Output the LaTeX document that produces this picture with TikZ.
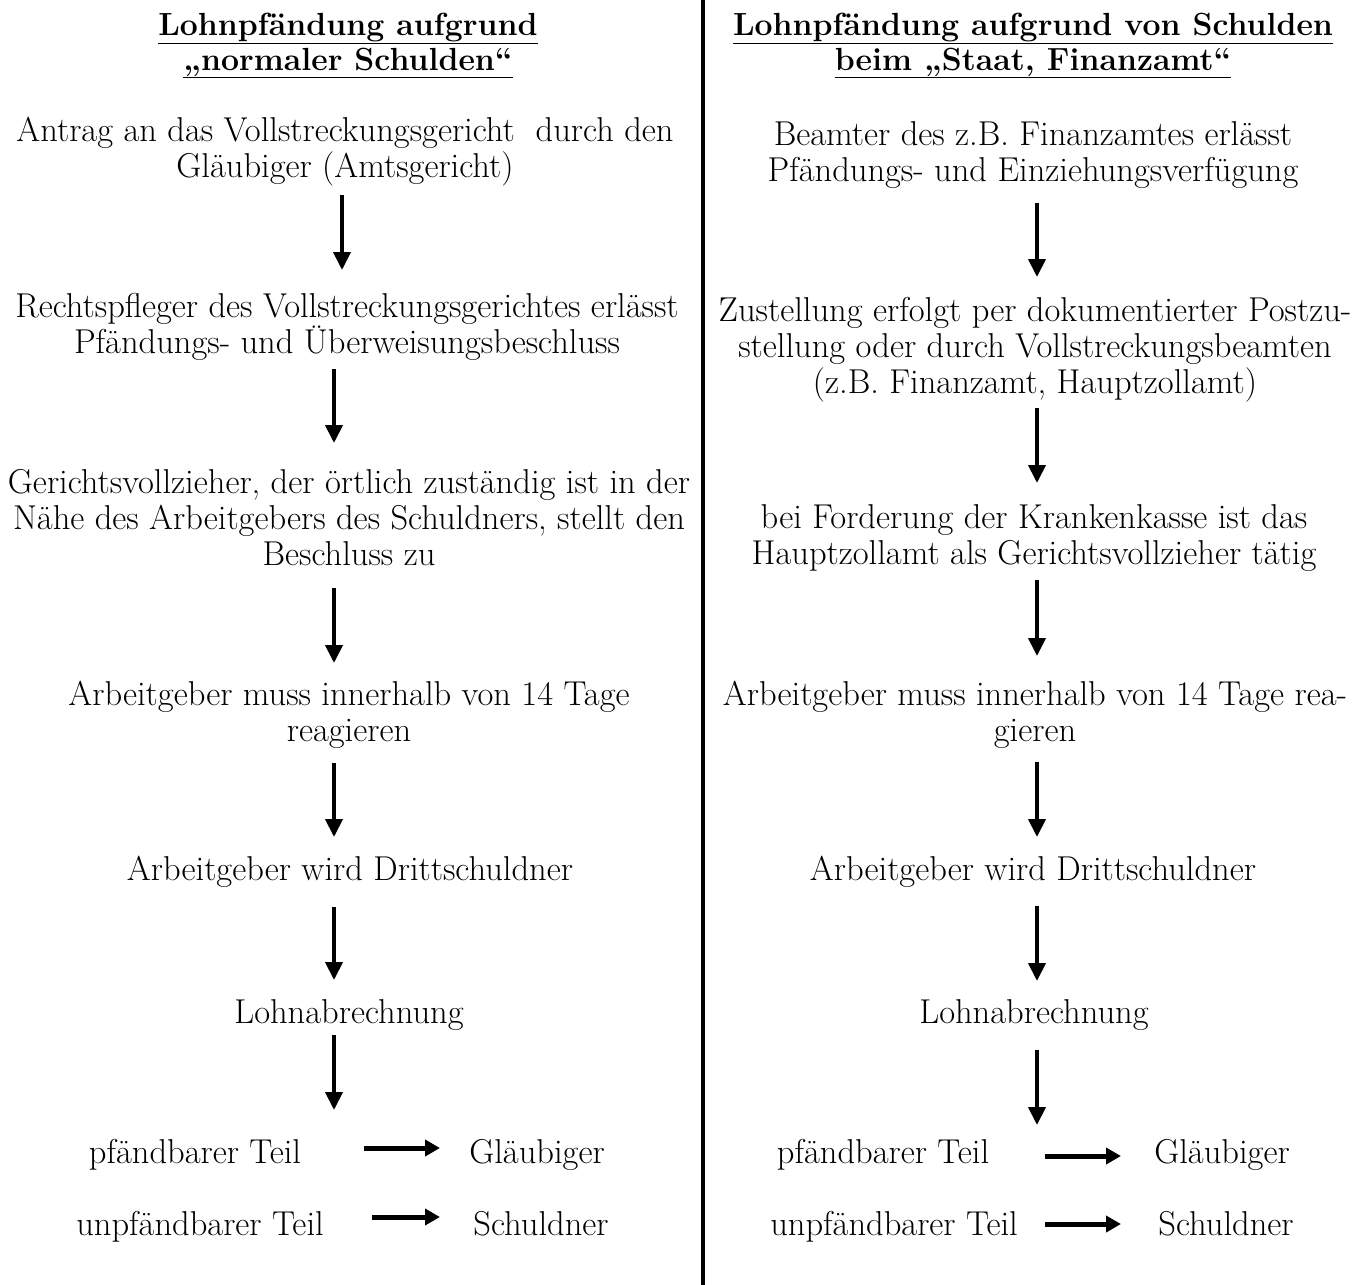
\documentclass[tikz,border=0pt]{standalone}
\usepackage{fontspec}
\usetikzlibrary{arrows.meta}
\tikzset{
  txt/.style={inner sep=0pt, anchor=base, align=center, font=\fontsize{34.5}{36}\selectfont},
  head/.style={inner sep=0pt, anchor=base, align=center, font=\fontsize{32}{35}\selectfont\bfseries},
  flow/.style={line width=4pt, -{Triangle[length=18pt,width=17pt]}},
  side/.style={line width=5pt, -{Triangle[length=15pt,width=16pt]}},
  divider/.style={line width=4pt}
}
\begin{document}
\begin{tikzpicture}[x=1pt,y=-1pt]
\useasboundingbox (0,0) rectangle (1358,1285);
% divider
\coordinate (dtop) at (703,0);
\coordinate (dbot) at (703,1285);
\draw[divider] (dtop) -- (dbot);

% ---------- left column (anchors = baseline of last line) ----------
\node[head] (lh) at (348,70) {\underline{Lohnpfändung aufgrund}\\\underline{„normaler Schulden“}};
\node[txt] (l1) at (345,177) {Antrag an das Vollstreckungsgericht\ \ durch den\\Gläubiger (Amtsgericht)};
\node[txt] (l2) at (347,353) {Rechtspfleger des Vollstreckungsgerichtes erlässt\\Pfändungs- und Überweisungsbeschluss};
\node[txt] (l3) at (349,565) {Gerichtsvollzieher, der örtlich zuständig ist in der\\Nähe des Arbeitgebers des Schuldners, stellt den\\Beschluss zu};
\node[txt] (l4) at (349,741) {Arbeitgeber muss innerhalb von 14 Tage\\reagieren};
\node[txt] (l5) at (350,880) {Arbeitgeber wird Drittschuldner};
\node[txt] (l6) at (349,1023) {Lohnabrechnung};
\node[txt] (l7) at (195,1163) {pfändbarer Teil};
\node[txt] (l7g) at (537,1163) {Gläubiger};
\node[txt] (l8) at (200,1235) {unpfändbarer Teil};
\node[txt] (l8s) at (541,1235) {Schuldner};

\coordinate (la1s) at (342,195); \coordinate (la1e) at (342,270);
\coordinate (la2s) at (334,369); \coordinate (la2e) at (334,443);
\coordinate (la3s) at (334,588); \coordinate (la3e) at (334,663);
\coordinate (la4s) at (334,763); \coordinate (la4e) at (334,837);
\coordinate (la5s) at (334,907); \coordinate (la5e) at (334,980);
\coordinate (la6s) at (334,1035); \coordinate (la6e) at (334,1110);
\draw[flow] (la1s) -- (la1e);
\draw[flow] (la2s) -- (la2e);
\draw[flow] (la3s) -- (la3e);
\draw[flow] (la4s) -- (la4e);
\draw[flow] (la5s) -- (la5e);
\draw[flow] (la6s) -- (la6e);
\coordinate (lb1s) at (364,1148); \coordinate (lb1e) at (440,1148);
\coordinate (lb2s) at (372,1217); \coordinate (lb2e) at (440,1217);
\draw[side] (lb1s) -- (lb1e);
\draw[side] (lb2s) -- (lb2e);

% ---------- right column ----------
\node[head] (rh) at (1033,70) {\underline{Lohnpfändung aufgrund von Schulden}\\\underline{beim „Staat, Finanzamt“}};
\node[txt] (r1) at (1033,181) {Beamter des z.B. Finanzamtes erlässt\\Pfändungs- und Einziehungsverfügung};
\node[txt] (r2) at (1035,393) {Zustellung erfolgt per dokumentierter Postzu-\\stellung oder durch Vollstreckungsbeamten\\(z.B. Finanzamt, Hauptzollamt)};
\node[txt] (r3) at (1034,564) {bei Forderung der Krankenkasse ist das\\Hauptzollamt als Gerichtsvollzieher tätig};
\node[txt] (r4) at (1035,741) {Arbeitgeber muss innerhalb von 14 Tage rea-\\gieren};
\node[txt] (r5) at (1033,880) {Arbeitgeber wird Drittschuldner};
\node[txt] (r6) at (1034,1023) {Lohnabrechnung};
\node[txt] (r7) at (883,1163) {pfändbarer Teil};
\node[txt] (r7g) at (1222,1163) {Gläubiger};
\node[txt] (r8) at (894,1235) {unpfändbarer Teil};
\node[txt] (r8s) at (1226,1235) {Schuldner};

\coordinate (ra1s) at (1037,203); \coordinate (ra1e) at (1037,277);
\coordinate (ra2s) at (1037,408); \coordinate (ra2e) at (1037,483);
\coordinate (ra3s) at (1037,580); \coordinate (ra3e) at (1037,656);
\coordinate (ra4s) at (1037,762); \coordinate (ra4e) at (1037,837);
\coordinate (ra5s) at (1037,906); \coordinate (ra5e) at (1037,981);
\coordinate (ra6s) at (1037,1050); \coordinate (ra6e) at (1037,1125);
\draw[flow] (ra1s) -- (ra1e);
\draw[flow] (ra2s) -- (ra2e);
\draw[flow] (ra3s) -- (ra3e);
\draw[flow] (ra4s) -- (ra4e);
\draw[flow] (ra5s) -- (ra5e);
\draw[flow] (ra6s) -- (ra6e);
\coordinate (rb1s) at (1045,1156); \coordinate (rb1e) at (1121,1156);
\coordinate (rb2s) at (1045,1224); \coordinate (rb2e) at (1121,1224);
\draw[side] (rb1s) -- (rb1e);
\draw[side] (rb2s) -- (rb2e);
\end{tikzpicture}
\end{document}
